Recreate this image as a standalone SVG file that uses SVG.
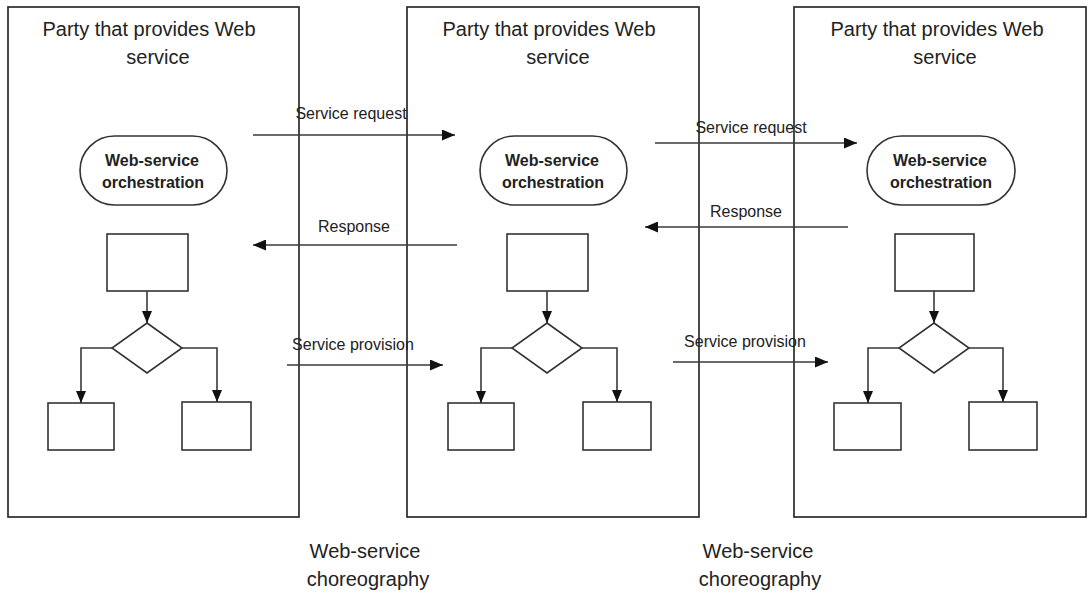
<svg xmlns="http://www.w3.org/2000/svg" width="1089" height="595" viewBox="0 0 1089 595">
<style>
.box{fill:none;stroke:#2b2b2b;stroke-width:1.7}
.shape{fill:#fff;stroke:#333;stroke-width:1.6}
.ln{fill:none;stroke:#3a3a3a;stroke-width:1.6}
.t20{font-family:"Liberation Sans",Arial,sans-serif;font-size:20px;fill:#222;text-anchor:middle}
.t16{font-family:"Liberation Sans",Arial,sans-serif;font-size:16px;fill:#222;text-anchor:middle}
.tb{font-family:"Liberation Sans",Arial,sans-serif;font-size:16px;font-weight:bold;fill:#222;text-anchor:middle}
</style>
<defs>
<marker id="big" markerUnits="userSpaceOnUse" markerWidth="14" markerHeight="11" refX="13" refY="5.5" orient="auto"><path d="M0,0 L13,5.5 L0,11 z" fill="#111"/></marker>
<marker id="sm" markerUnits="userSpaceOnUse" markerWidth="13" markerHeight="10" refX="12" refY="5" orient="auto"><path d="M0,0 L12,5 L0,10 z" fill="#111"/></marker>
</defs>
<rect width="1089" height="595" fill="#fff"/>

<g id="party1">
<rect class="box" x="8" y="7" width="291" height="510"/>
<text class="t20" x="149" y="36">Party that provides Web</text>
<text class="t20" x="158" y="64">service</text>
</g>
<g id="orch1">
<rect class="shape" x="80" y="136" width="147" height="69" rx="34.5"/>
<text class="tb" x="152" y="166">Web-service</text>
<text class="tb" x="153" y="188">orchestration</text>
</g>
<g id="p1-top"><rect class="shape" x="107" y="234" width="81" height="57"/></g>
<g id="p1-dec"><path class="shape" d="M147,323 L182,348 L147,373 L112,348 Z"/></g>
<g id="p1-left"><rect class="shape" x="48" y="403" width="66" height="47"/></g>
<g id="p1-right"><rect class="shape" x="182" y="402" width="69" height="48"/></g>

<g id="party2">
<rect class="box" x="407" y="7" width="292" height="510"/>
<text class="t20" x="549" y="36">Party that provides Web</text>
<text class="t20" x="558" y="64">service</text>
</g>
<g id="orch2">
<rect class="shape" x="480" y="136" width="147" height="69" rx="34.5"/>
<text class="tb" x="552" y="166">Web-service</text>
<text class="tb" x="553" y="188">orchestration</text>
</g>
<g id="p2-top"><rect class="shape" x="507" y="234" width="81" height="57"/></g>
<g id="p2-dec"><path class="shape" d="M547,323 L582,348 L547,373 L512,348 Z"/></g>
<g id="p2-left"><rect class="shape" x="448" y="403" width="66" height="47"/></g>
<g id="p2-right"><rect class="shape" x="583" y="402" width="68" height="48"/></g>

<g id="party3">
<rect class="box" x="794" y="7" width="292" height="510"/>
<text class="t20" x="937" y="36">Party that provides Web</text>
<text class="t20" x="945" y="64">service</text>
</g>
<g id="orch3">
<rect class="shape" x="867" y="136" width="148" height="69" rx="34.5"/>
<text class="tb" x="940" y="166">Web-service</text>
<text class="tb" x="941" y="188">orchestration</text>
</g>
<g id="p3-top"><rect class="shape" x="895" y="234" width="79" height="57"/></g>
<g id="p3-dec"><path class="shape" d="M934,323 L969,348 L934,373 L899,348 Z"/></g>
<g id="p3-left"><rect class="shape" x="834" y="403" width="67" height="47"/></g>
<g id="p3-right"><rect class="shape" x="969" y="402" width="68" height="48"/></g>

<g id="chor1">
<text class="t20" x="365" y="558">Web-service</text>
<text class="t20" x="368" y="586">choreography</text>
</g>
<g id="chor2">
<text class="t20" x="758" y="558">Web-service</text>
<text class="t20" x="760" y="586">choreography</text>
</g>

<g id="connectors">
<line class="ln" x1="253" y1="135" x2="455" y2="135" marker-end="url(#big)"/>
<text class="t16" x="351" y="119">Service request</text>
<line class="ln" x1="457" y1="245" x2="253" y2="245" marker-end="url(#big)"/>
<text class="t16" x="354" y="232">Response</text>
<line class="ln" x1="287" y1="365" x2="443" y2="365" marker-end="url(#big)"/>
<text class="t16" x="353" y="350">Service provision</text>

<line class="ln" x1="655" y1="143" x2="857" y2="143" marker-end="url(#big)"/>
<text class="t16" x="751" y="133">Service request</text>
<line class="ln" x1="848" y1="227" x2="645" y2="227" marker-end="url(#big)"/>
<text class="t16" x="746" y="217">Response</text>
<line class="ln" x1="673" y1="362" x2="828" y2="362" marker-end="url(#big)"/>
<text class="t16" x="745" y="347">Service provision</text>

<line class="ln" x1="147" y1="291" x2="147" y2="323" marker-end="url(#sm)"/>
<polyline class="ln" points="112,348 81,348 81,403" marker-end="url(#sm)"/>
<polyline class="ln" points="182,348 217,348 217,402" marker-end="url(#sm)"/>

<line class="ln" x1="547" y1="291" x2="547" y2="323" marker-end="url(#sm)"/>
<polyline class="ln" points="512,348 481,348 481,403" marker-end="url(#sm)"/>
<polyline class="ln" points="582,348 617,348 617,402" marker-end="url(#sm)"/>

<line class="ln" x1="934" y1="291" x2="934" y2="323" marker-end="url(#sm)"/>
<polyline class="ln" points="899,348 868,348 868,403" marker-end="url(#sm)"/>
<polyline class="ln" points="969,348 1003,348 1003,402" marker-end="url(#sm)"/>
</g>
</svg>
